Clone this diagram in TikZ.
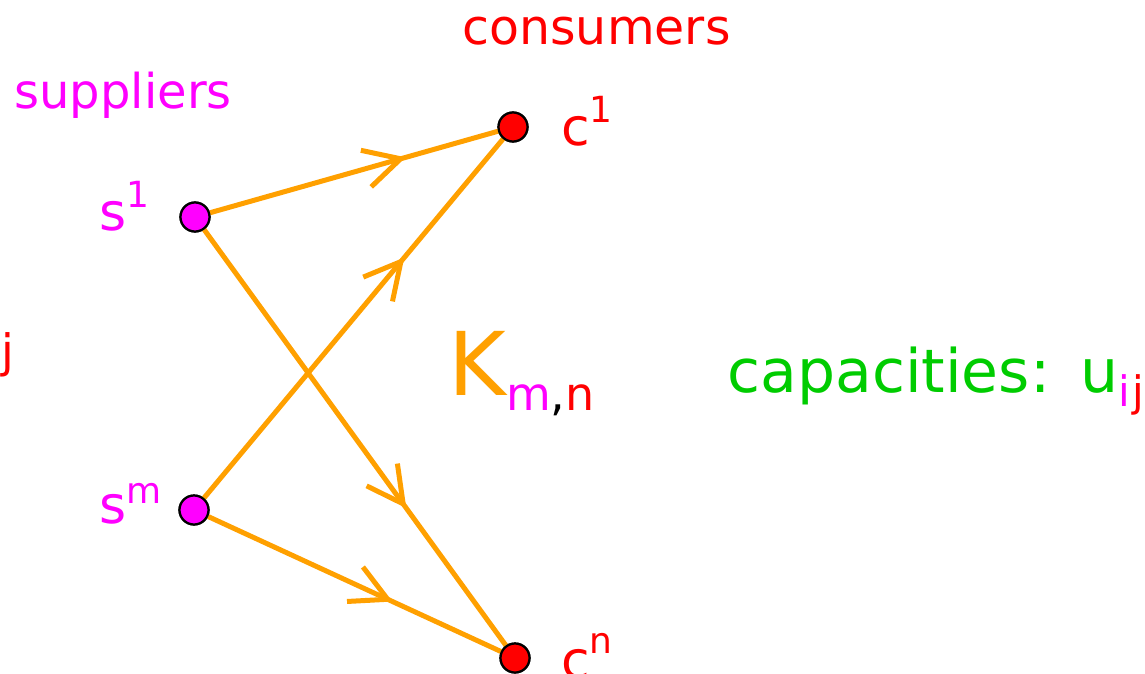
\documentclass[tikz,border=0pt]{standalone}
\usepackage{fontspec}
\setmainfont{DejaVu Sans}
\usetikzlibrary{arrows.meta,decorations.markings}
\definecolor{myorange}{RGB}{255,160,0}
\definecolor{mymag}{RGB}{255,0,255}
\definecolor{myred}{RGB}{255,0,0}
\definecolor{mygreen}{RGB}{0,204,0}
\newcommand\fsz[1]{\fontsize{#1}{#1}\selectfont}
\begin{document}
\begin{tikzpicture}[x=0.5pt,y=-0.5pt,
  vert/.style={circle,draw=black,line width=1.1pt,minimum size=14.5pt,inner sep=0pt},
  edge/.style={myorange,line width=2.5pt},
  midarrow/.style={postaction={decorate},decoration={markings,mark=at position #1 with {\arrow[myorange,line width=2.5pt]{Straight Barb[length=18pt,width=19pt]}}}},
  lbl/.style={inner sep=0pt,anchor=base west}]
\useasboundingbox (0,0) rectangle (1145,674);
\begin{scope}
\clip (0,0) rectangle (1145,674);
% vertices
\node[vert,fill=mymag] (s1) at (195,217) {};
\node[vert,fill=mymag] (sm) at (194,510) {};
\node[vert,fill=myred] (c1) at (513,127) {};
\node[vert,fill=myred] (cn) at (515,658) {};
% edges
\draw[edge,midarrow=0.68] (s1) -- (c1);
\draw[edge,midarrow=0.67] (sm) -- (c1);
\draw[edge,midarrow=0.67] (s1) -- (cn);
\draw[edge,midarrow=0.63] (sm) -- (cn);
\node[vert,fill=mymag] at (s1) {};
\node[vert,fill=mymag] at (sm) {};
\node[vert,fill=myred] at (c1) {};
\node[vert,fill=myred] at (cn) {};
% labels
\node[lbl,myred] (consumers) at (462,45) {\fsz{24.5}consumers};
\node[lbl,mymag] (suppliers) at (14,109) {\fsz{24}suppliers};
\node[lbl,mymag] (s1lab) at (99,230) {\fsz{26}s\raisebox{11.5pt}{\fsz{18}1}};
\node[lbl,mymag] (smlab) at (99,523) {\fsz{26}s\raisebox{10pt}{\fsz{18}m}};
\node[lbl,myred] (c1lab) at (561,145) {\fsz{26}c\raisebox{11.5pt}{\fsz{18}1}};
\node[lbl,myred] (cnlab) at (561,678) {\fsz{26}c\raisebox{12.5pt}{\fsz{18}n}};
\node[lbl,myorange] (K) at (448,395) {\fsz{44}K\raisebox{-7.5pt}{\fsz{23}\color{mymag}m\color{black},\color{myred}n}};
\node[lbl,mygreen] (cap) at (727,392) {\fsz{30}capacities:};
\node[lbl,mygreen] (u) at (1080,392) {\fsz{30}u\raisebox{-7pt}{\fsz{21}\color{mymag}i\hspace{1pt}\color{myred}j}};
\node[lbl] (ijleft) at (-14,367) {\fsz{23}\color{mymag}i\hspace{1pt}\color{myred}j};
\end{scope}
\end{tikzpicture}
\end{document}
